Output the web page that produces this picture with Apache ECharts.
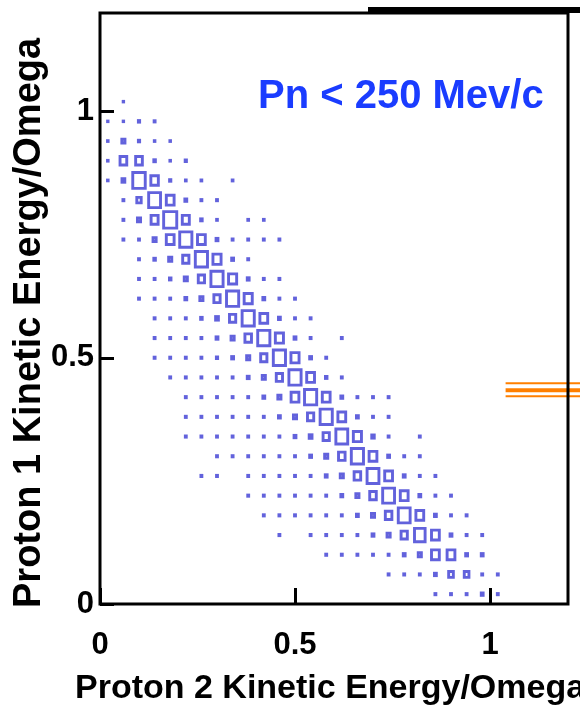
<!DOCTYPE html>
<html>
<head>
<meta charset="utf-8">
<script src="https://cdn.jsdelivr.net/npm/echarts@6/dist/echarts.min.js"></script>
<style>
html,body{margin:0;padding:0;background:#fff;}
#chart{width:580px;height:708px;}
</style>
</head>
<body>
<div id="chart"></div>
<script>
// ---- data ----
const xTitle = 'Proton 2 Kinetic Energy/Omega';
const yTitle = 'Proton 1 Kinetic Energy/Omega';
const cutLabel = 'Pn < 250 Mev/c';
const xTickValues = [0, 0.5, 1];
const yTickValues = [0, 0.5, 1];
const binWidth = 0.04;
const binHeight = 0.04;
// bin centres (x and y)
const xCenters = [0.02,0.06,0.10,0.14,0.18,0.22,0.26,0.30,0.34,0.38,0.42,0.46,0.50,
                  0.54,0.58,0.62,0.66,0.70,0.74,0.78,0.82,0.86,0.90,0.94,0.98,1.02];
const yCenters = [0.02,0.06,0.10,0.14,0.18,0.22,0.26,0.30,0.34,0.38,0.42,0.46,0.50,
                  0.54,0.58,0.62,0.66,0.70,0.74,0.78,0.82,0.86,0.90,0.94,0.98,1.02];
// cells: [xBinIndex, yBinIndex, content]
const cells = [
  [1,25,3],
  [0,24,3],[1,24,3],[2,24,8],[3,24,6],
  [0,23,4],[1,23,20],[2,23,8],[3,23,4],[4,23,4],
  [0,22,4],[1,22,43],[2,22,43],[3,22,10],[4,22,4],[5,22,8],
  [0,21,4],[1,21,18],[2,21,80],[3,21,48],[4,21,8],[5,21,5],[6,21,5],[8,21,5],
  [1,20,6],[2,20,28],[3,20,76],[4,20,50],[5,20,12],[6,20,6],[7,20,6],
  [1,19,6],[2,19,20],[3,19,45],[4,19,84],[5,19,45],[6,19,10],[7,19,5],[9,19,5],[10,19,5],
  [1,18,6],[2,18,6],[3,18,20],[4,18,50],[5,18,78],[6,18,50],[7,18,12],[8,18,6],[9,18,6],[10,18,6],[11,18,6],
  [2,17,6],[3,17,10],[4,17,20],[5,17,40],[6,17,78],[7,17,52],[8,17,12],[9,17,6],
  [2,16,6],[3,16,6],[4,16,10],[5,16,20],[6,16,40],[7,16,78],[8,16,52],[9,16,12],[10,16,6],[11,16,6],
  [2,15,6],[3,15,6],[4,15,6],[5,15,12],[6,15,20],[7,15,40],[8,15,78],[9,15,52],[10,15,12],[11,15,6],[12,15,6],
  [3,14,6],[4,14,6],[5,14,6],[6,14,10],[7,14,18],[8,14,40],[9,14,78],[10,14,50],[11,14,12],[12,14,6],[13,14,6],
  [3,13,6],[4,13,6],[5,13,6],[6,13,6],[7,13,12],[8,13,20],[9,13,42],[10,13,78],[11,13,52],[12,13,12],[13,13,6],[15,13,6],
  [3,12,6],[4,12,6],[5,12,6],[6,12,6],[7,12,8],[8,12,12],[9,12,20],[10,12,40],[11,12,78],[12,12,52],[13,12,12],[14,12,6],
  [4,11,6],[5,11,6],[6,11,6],[7,11,6],[8,11,6],[9,11,12],[10,11,20],[11,11,40],[12,11,78],[13,11,50],[14,11,10],[15,11,6],
  [5,10,6],[6,10,6],[7,10,6],[8,10,6],[9,10,6],[10,10,12],[11,10,20],[12,10,50],[13,10,78],[14,10,50],[15,10,12],[16,10,6],[17,10,6],[18,10,6],
  [5,9,6],[6,9,6],[7,9,6],[8,9,6],[9,9,6],[10,9,6],[11,9,12],[12,9,20],[13,9,40],[14,9,78],[15,9,50],[16,9,12],[17,9,6],[18,9,6],
  [5,8,6],[6,8,6],[7,8,6],[8,8,6],[9,8,6],[10,8,6],[11,8,6],[12,8,12],[13,8,18],[14,8,40],[15,8,76],[16,8,52],[17,8,16],[18,8,6],[20,8,6],
  [7,7,6],[8,7,6],[9,7,6],[10,7,6],[11,7,6],[12,7,6],[13,7,12],[14,7,20],[15,7,42],[16,7,78],[17,7,50],[18,7,12],[19,7,6],[20,7,6],
  [6,6,6],[7,6,6],[9,6,6],[10,6,6],[11,6,6],[12,6,6],[13,6,6],[14,6,12],[15,6,20],[16,6,42],[17,6,76],[18,6,50],[19,6,12],[20,6,6],[21,6,6],
  [9,5,6],[10,5,6],[11,5,6],[12,5,6],[13,5,6],[14,5,6],[15,5,12],[16,5,20],[17,5,42],[18,5,76],[19,5,50],[20,5,12],[21,5,6],[22,5,6],
  [10,4,6],[11,4,6],[12,4,6],[13,4,6],[14,4,6],[15,4,6],[16,4,12],[17,4,20],[18,4,42],[19,4,76],[20,4,50],[21,4,12],[22,4,6],[23,4,6],
  [11,3,6],[13,3,6],[14,3,6],[15,3,6],[16,3,6],[17,3,12],[18,3,20],[19,3,40],[20,3,68],[21,3,50],[22,3,12],[23,3,6],[24,3,6],
  [14,2,6],[15,2,6],[16,2,6],[17,2,6],[18,2,6],[19,2,12],[20,2,20],[21,2,50],[22,2,50],[23,2,12],[24,2,12],
  [18,1,6],[19,1,6],[20,1,6],[21,1,12],[22,1,30],[23,1,30],[24,1,6],[25,1,6],
  [21,0,6],[22,0,6],[23,0,6],[24,0,12],[25,0,6]
];
const zScale = 100;
// stray orange lines on the right (from a neighbouring panel)
const orangeLevels = [0.448, 0.434, 0.422];
const orangeWidths = [2, 4, 2];
const orangeX = [1.04, 1.25];

// ---- chart ----
const FONT = '"Liberation Sans", Arial, Helvetica, sans-serif';
const BOX = '#6262dc';
const chart = echarts.init(document.getElementById('chart'), null, {renderer: 'canvas'});

const boxData = cells.map(c => [xCenters[c[0]], yCenters[c[1]], c[2]]);

chart.setOption({
  animation: false,
  backgroundColor: '#ffffff',
  grid: {left: 100, right: 12, top: 13, bottom: 104, show: true, borderColor: '#000', borderWidth: 3, z: 5, containLabel: false},
  xAxis: {
    type: 'value', min: 0, max: 1.2, interval: 0.5,
    axisLine: {show: false},
    axisTick: {show: true, inside: true, length: 16, lineStyle: {color: '#000', width: 3},
      customValues: xTickValues},
    axisLabel: {show: true, margin: 26, color: '#000', fontFamily: FONT, fontWeight: 'bold', fontSize: 31,
      customValues: xTickValues, formatter: v => String(v)},
    splitLine: {show: false}
  },
  yAxis: {
    type: 'value', min: 0, max: 1.2, interval: 0.5,
    axisLine: {show: false},
    axisTick: {show: true, inside: true, length: 14, lineStyle: {color: '#000', width: 3},
      customValues: yTickValues},
    axisLabel: {show: true, margin: 6, color: '#000', fontFamily: FONT, fontWeight: 'bold', fontSize: 31,
      customValues: yTickValues, formatter: v => String(v)},
    splitLine: {show: false}
  },
  graphic: {elements: [
    {id: 'topbar', type: 'rect', z: 10, shape: {x: 368, y: 7, width: 212, height: 6}, style: {fill: '#000'}},
    {id: 'cut', type: 'text', z: 10, x: 258, y: 97,
      style: {text: cutLabel, font: 'bold 40px ' + FONT, fill: '#1a3cff', align: 'left', verticalAlign: 'middle'}},
    {id: 'xt', type: 'text', z: 10, x: 75, y: 689,
      style: {text: xTitle, font: 'bold 34px ' + FONT, fill: '#000', align: 'left', verticalAlign: 'middle'}},
    {id: 'yt', type: 'text', z: 10, x: 30, y: 608, rotation: Math.PI / 2,
      style: {text: yTitle, font: 'bold 38px ' + FONT, fill: '#000', align: 'left', verticalAlign: 'middle'}}
  ]},
  series: [{
    type: 'custom',
    coordinateSystem: 'cartesian2d',
    z: 3,
    data: boxData,
    renderItem: function (params, api) {
      const c = api.coord([api.value(0), api.value(1)]);
      const s = api.size([binWidth, binHeight]);
      const f = api.value(2) / zScale;
      const w = s[0] * f, h = s[1] * f;
      return {
        type: 'rect',
        shape: {x: c[0] - w / 2, y: c[1] - h / 2, width: w, height: h},
        style: {fill: 'none', stroke: BOX, lineWidth: 2.9}
      };
    }
  }]
});

// orange stray lines, positioned through the axes
const orangeEls = orangeLevels.map((lv, k) => {
  const p0 = chart.convertToPixel({gridIndex: 0}, [orangeX[0], lv]);
  const p1 = chart.convertToPixel({gridIndex: 0}, [orangeX[1], lv]);
  return {id: 'or' + k, type: 'line', z: 4,
    shape: {x1: p0[0], y1: p0[1], x2: p1[0], y2: p1[1]},
    style: {stroke: '#ff7f00', lineWidth: orangeWidths[k]}};
});
chart.setOption({graphic: {elements: orangeEls}});
</script>
</body>
</html>
